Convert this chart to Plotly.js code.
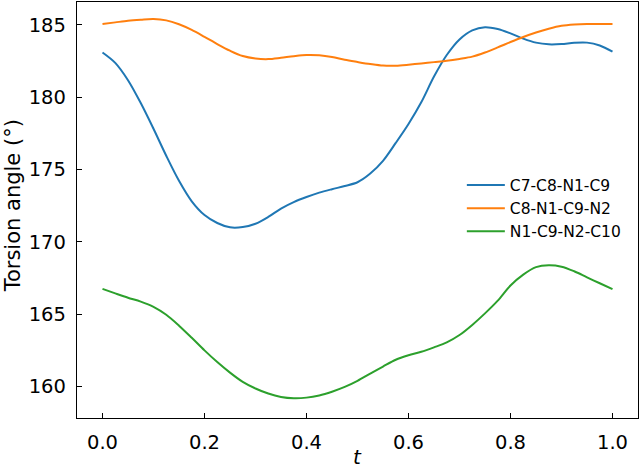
<!DOCTYPE html>
<html>
<head>
<meta charset="utf-8">
<script src="https://cdn.plot.ly/plotly-3.0.1.min.js"></script>
<style>
html,body{margin:0;padding:0;background:#fff;}
#chart{width:640px;height:469px;}
</style>
</head>
<body>
<div id="chart"></div>
<script>
const t = [0.000,0.025,0.050,0.075,0.100,0.125,0.150,0.175,0.200,0.225,0.250,0.275,0.300,0.325,0.350,0.375,0.400,0.425,0.450,0.475,0.500,
           0.525,0.550,0.575,0.600,0.625,0.650,0.675,0.700,0.725,0.750,0.775,0.800,0.825,0.850,0.875,0.900,0.925,0.950,0.975,1.000];
const c7c8n1c9 = [183.10,182.38,181.18,179.60,177.82,175.95,174.22,172.80,171.85,171.30,171.00,171.02,171.25,171.72,172.30,172.75,173.10,173.40,173.64,173.86,174.12,
                  174.72,175.60,176.84,178.15,179.65,181.43,182.92,184.00,184.63,184.85,184.72,184.42,184.06,183.78,183.66,183.68,183.77,183.78,183.58,183.15];
const c8n1c9n2 = [185.07,185.18,185.29,185.36,185.41,185.32,185.05,184.66,184.18,183.68,183.22,182.85,182.68,182.64,182.73,182.84,182.92,182.90,182.78,182.59,182.44,
                  182.30,182.19,182.18,182.25,182.34,182.43,182.52,182.65,182.81,183.10,183.45,183.82,184.17,184.48,184.74,184.94,185.03,185.07,185.07,185.07];
const n1c9n2c10 = [166.74,166.43,166.13,165.86,165.50,164.95,164.20,163.36,162.49,161.68,160.95,160.31,159.85,159.50,159.27,159.18,159.22,159.37,159.63,159.96,160.38,
                   160.88,161.37,161.84,162.15,162.39,162.70,163.04,163.55,164.25,165.05,165.93,166.98,167.73,168.25,168.38,168.28,167.96,167.54,167.13,166.72];
const names = ["C7-C8-N1-C9","C8-N1-C9-N2","N1-C9-N2-C10"];
const colors = ["#1f77b4","#ff7f0e","#2ca02c"];
const series = [c7c8n1c9, c8n1c9n2, n1c9n2c10];
const xTitle = "<i>t</i>";
const yTitle = "Torsion angle (°)";

const traces = series.map((ys, i) => ({
  x: t, y: ys, name: names[i], type: "scatter", mode: "lines",
  line: {color: colors[i], width: 2, shape: "spline", smoothing: 0.9}
}));

const font = "DejaVu Sans, sans-serif";
const layout = {
  width: 640, height: 469,
  margin: {l: 77, r: 2, t: 2, b: 51},
  paper_bgcolor: "#fff", plot_bgcolor: "#fff",
  showlegend: true,
  legend: {x: 0.686, y: 0.600, xanchor: "left", yanchor: "top", itemwidth: 38,
           font: {family: font, size: 15.5, color: "#000"}, bgcolor: "rgba(0,0,0,0)"},
  xaxis: {
    range: [-0.05, 1.05], tickvals: [0,0.2,0.4,0.6,0.8,1.0],
    ticktext: ["0.0","0.2","0.4","0.6","0.8","1.0"],
    ticks: "inside", ticklen: 5, tickwidth: 1, tickcolor: "#000",
    showline: true, mirror: true, linecolor: "#000", linewidth: 1.2,
    showgrid: false, zeroline: false,
    tickfont: {family: font, size: 19.5, color: "#000"},
    ticklabelstandoff: 6
  },
  yaxis: {
    range: [157.81, 186.59], tickvals: [160,165,170,175,180,185],
    ticks: "inside", ticklen: 5, tickwidth: 1, tickcolor: "#000",
    showline: true, mirror: true, linecolor: "#000", linewidth: 1.2,
    showgrid: false, zeroline: false,
    tickfont: {family: font, size: 19.5, color: "#000"},
    ticklabelstandoff: 6
  },
  annotations: [
    {text: xTitle, xref: "paper", yref: "paper", x: 0.5, y: -0.094, xanchor: "center", yanchor: "middle",
     showarrow: false, borderpad: 0, font: {family: font, size: 20, color: "#000"}},
    {text: yTitle, xref: "paper", yref: "paper", x: -0.115, y: 0.51, xanchor: "center", yanchor: "middle",
     textangle: -90, showarrow: false, borderpad: 0, font: {family: font, size: 21, color: "#000"}}
  ]
};
Plotly.newPlot("chart", traces, layout, {displayModeBar: false, staticPlot: true});
</script>
</body>
</html>
